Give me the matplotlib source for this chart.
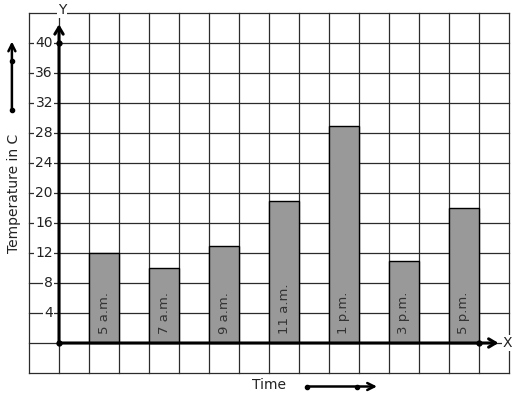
import matplotlib
matplotlib.use("Agg")
import matplotlib.pyplot as plt

# --- data ---
times = ["5 a.m.", "7 a.m.", "9 a.m.", "11 a.m.", "1 p.m.", "3 p.m.", "5 p.m."]
temps = [12, 10, 13, 19, 29, 11, 18]
bar_left = [1, 3, 5, 7, 9, 11, 13]          # grid-cell positions of each bar
y_ticks = [4, 8, 12, 16, 20, 24, 28, 32, 36, 40]

BAR_COLOR = "#999999"
GRID_COLOR = "#2b2b2b"
TEXT_COLOR = "#222222"

# one grid cell = 30 px wide, 4 units (30 px) tall; y-axis at px 59, zero at px 343
fig = plt.figure(figsize=(5.17, 3.99), dpi=100)
ax = fig.add_axes([0, 0, 1, 1])
ax.set_xlim(-59 / 30, (517 - 59) / 30)
ax.set_ylim((343 - 399) / 7.5, 343 / 7.5)
ax.axis("off")

# --- grid ---
for gx in range(-1, 16):
    ax.plot([gx, gx], [-4, 44], color=GRID_COLOR, lw=0.9, zorder=1)
for gy in range(-4, 45, 4):
    ax.plot([-1, 15], [gy, gy], color=GRID_COLOR, lw=0.9, zorder=1)

# --- bars ---
ax.bar(bar_left, temps, width=1, align="edge", color=BAR_COLOR,
       edgecolor="black", linewidth=1.0, zorder=3)
for x0, lab in zip(bar_left, times):
    ax.text(x0 + 0.5, 1.2, lab, rotation=90, ha="center", va="bottom",
            fontsize=9.5, color="#333333", zorder=4)

# --- axes lines with open arrowheads ---
arrow = dict(arrowstyle="->,head_length=0.5,head_width=0.3", color="black",
             lw=2.2, shrinkA=0, shrinkB=0)
ax.annotate("", xy=(0, 42.5), xytext=(0, 0), arrowprops=arrow, zorder=5)
ax.annotate("", xy=(14.65, 0), xytext=(0, 0), arrowprops=arrow, zorder=5)
ax.plot([0, 0, 14], [0, 40, 0], "o", color="black", ms=3.5, zorder=6)

ax.text(0.1, 44.4, "Y", ha="center", va="center", fontsize=10, color=TEXT_COLOR,
        bbox=dict(facecolor="white", edgecolor="none", pad=0.5), zorder=6)
ax.text(14.95, 0, "X", ha="center", va="center", fontsize=10, color=TEXT_COLOR,
        bbox=dict(facecolor="white", edgecolor="none", pad=0.5), zorder=6)

# --- y tick labels ---
for t in y_ticks:
    ax.text(-0.2, t, str(t), ha="right", va="center", fontsize=10, color=TEXT_COLOR,
            bbox=dict(facecolor="white", edgecolor="none", pad=0.8), zorder=6)

# --- axis titles and direction arrows ---
ax.text(-1.5, 20, "Temperature in C", rotation=90, ha="center", va="center",
        fontsize=10, color=TEXT_COLOR)
small = dict(arrowstyle="->,head_length=0.5,head_width=0.25", color="black",
             lw=1.8, shrinkA=0, shrinkB=0)
ax.annotate("", xy=(-1.57, 40.2), xytext=(-1.57, 31.1), arrowprops=small)
ax.plot([-1.57, -1.57], [31.1, 37.6], "o", color="black", ms=3)

ax.text(7.0, -5.6, "Time", ha="center", va="center", fontsize=10, color=TEXT_COLOR)
ax.annotate("", xy=(10.6, -5.8), xytext=(8.27, -5.8), arrowprops=small)
ax.plot([8.27, 9.93], [-5.8, -5.8], "o", color="black", ms=3)

fig.savefig("out.png", dpi=100, facecolor="white")
